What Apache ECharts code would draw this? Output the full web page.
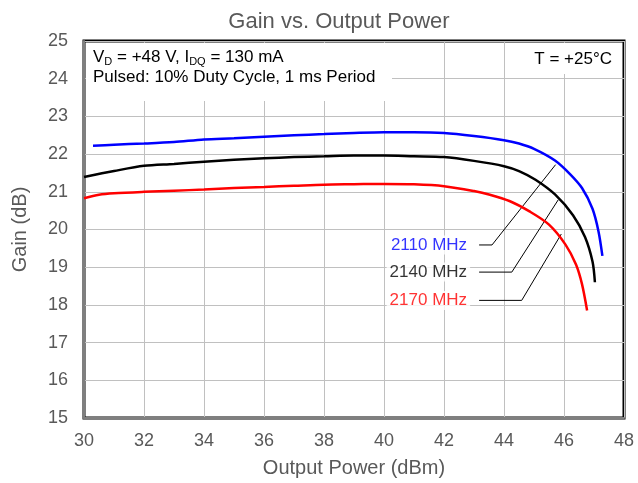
<!DOCTYPE html>
<html>
<head>
<meta charset="utf-8">
<script src="https://cdn.jsdelivr.net/npm/echarts@6/dist/echarts.min.js"></script>
<style>
  html, body { margin: 0; padding: 0; background: #fff; }
  #chart { width: 638px; height: 483px; }
</style>
</head>
<body>
<div id="chart"></div>
<script>
// data: [output power dBm, gain dB]
var gain2110 = [[30.3, 22.22], [31, 22.25], [32, 22.28], [33, 22.32], [34, 22.39], [35, 22.42], [36, 22.46],
    [37, 22.5], [38, 22.53], [39, 22.56], [40, 22.58], [41, 22.58], [42, 22.56], [43, 22.48], [44, 22.37],
    [44.5, 22.28], [45, 22.14], [45.7, 21.83], [46.2, 21.47], [46.6, 21.1], [46.95, 20.55], [47.15, 19.95], [47.28, 19.3]];
var gain2140 = [[30, 21.39], [31, 21.55], [32, 21.69], [33, 21.74], [34, 21.8], [35, 21.85], [36, 21.89],
    [37, 21.92], [38, 21.94], [39, 21.96], [40, 21.96], [41, 21.94], [42, 21.92], [43, 21.82], [44, 21.68],
    [44.5, 21.55], [45.05, 21.32], [45.7, 20.93], [46.3, 20.38], [46.7, 19.8], [46.95, 19.15], [47.03, 18.6]];
var gain2170 = [[30, 20.83], [30.5, 20.92], [31, 20.96], [32, 21.0], [33, 21.03], [34, 21.06], [35, 21.1],
    [36, 21.13], [37, 21.16], [38, 21.19], [39, 21.2], [40, 21.21], [41, 21.2], [42, 21.15], [43, 21.02],
    [43.5, 20.93], [44.2, 20.75], [44.85, 20.48], [45.5, 20.13], [46.05, 19.6], [46.4, 19.07], [46.6, 18.55], [46.77, 17.85]];

// callout leaders (curve -> elbow -> label)
var lead2110 = [[45.72, 21.72], [43.6, 19.59], [43.17, 19.59]];
var lead2140 = [[45.81, 20.79], [44.26, 18.87], [43.17, 18.87]];
var lead2170 = [[45.91, 19.88], [44.59, 18.12], [43.17, 18.12]];

var names = ['2110 MHz', '2140 MHz', '2170 MHz'];
var colors = ['#0000ff', '#000000', '#ff0000'];
var xTicks = [30, 48, 2];
var yTicks = [15, 25, 1];

var font = "'Liberation Sans', Arial, sans-serif";
var gray = '#595959';

function curve(name, data, color) {
    return {
        name: name,
        type: 'line',
        data: data,
        smooth: 0.3,
        showSymbol: false,
        lineStyle: { color: color, width: 2.5 },
        z: 3
    };
}
function leader(data) {
    return {
        type: 'line',
        data: data,
        showSymbol: false,
        silent: true,
        lineStyle: { color: '#000', width: 1 },
        z: 2
    };
}
function tag(name, data, color) {
    var p = data[data.length - 1];
    return {
        type: 'scatter',
        data: [p],
        symbolSize: 0,
        silent: true,
        label: {
            show: true,
            position: 'left',
            distance: 9,
            formatter: name,
            color: color,
            fontFamily: font,
            fontSize: 17,
            backgroundColor: '#fff',
            padding: [1, 3]
        },
        z: 4
    };
}

var mychart = echarts.init(document.getElementById('chart'));
option = {
    animation: false,
    textStyle: { fontFamily: font },
    title: {
        text: 'Gain vs. Output Power',
        left: 334,
        top: 6,
        textAlign: 'center',
        textStyle: { fontFamily: font, fontSize: 22, fontWeight: 'normal', color: gray }
    },
    grid: {
        left: 84, right: 14, top: 41, bottom: 64,
        show: true,
        borderColor: '#000',
        borderWidth: 3,
        backgroundColor: '#fff'
    },
    xAxis: {
        type: 'value',
        min: xTicks[0], max: xTicks[1], interval: xTicks[2],
        name: 'Output Power (dBm)',
        nameLocation: 'middle',
        nameGap: 40,
        nameTextStyle: { fontFamily: font, fontSize: 20, color: gray },
        axisLine: { lineStyle: { color: '#7f7f7f', width: 2 } },
        axisTick: { show: false },
        axisLabel: { fontFamily: font, fontSize: 18, color: gray, margin: 14 },
        splitLine: { lineStyle: { color: '#c0c0c0', width: 1 } }
    },
    yAxis: {
        type: 'value',
        min: yTicks[0], max: yTicks[1], interval: yTicks[2],
        name: 'Gain (dB)',
        nameLocation: 'middle',
        nameGap: 54,
        nameTextStyle: { fontFamily: font, fontSize: 20, color: gray },
        axisLine: { show: true, lineStyle: { color: '#7f7f7f', width: 2 } },
        axisTick: { show: false },
        axisLabel: { fontFamily: font, fontSize: 18, color: gray, margin: 16 },
        splitLine: { lineStyle: { color: '#c0c0c0', width: 1 } }
    },
    graphic: [
        { type: 'rect', left: 86, top: 43, z: 1, shape: { width: 306, height: 58 }, style: { fill: '#fff' } },
        { type: 'rect', left: 522, top: 43, z: 1, shape: { width: 100, height: 31 }, style: { fill: '#fff' } },
        {
            type: 'text', left: 93, top: 47, z: 5,
            style: {
                text: 'V{s|D} = +48 V, I{s|DQ} = 130 mA\nPulsed: 10% Duty Cycle, 1 ms Period',
                font: '17px ' + font,
                fill: '#000',
                lineHeight: 20,
                rich: {
                    s: { fontSize: 11, fontFamily: font, verticalAlign: 'bottom', lineHeight: 20, padding: [6, 0, 0, 0] }
                }
            }
        },
        {
            type: 'text', right: 26, top: 51, z: 5,
            style: { text: 'T = +25°C', font: '17px ' + font, fill: '#000' }
        }
    ],
    series: [
        curve(names[0], gain2110, colors[0]),
        curve(names[1], gain2140, colors[1]),
        curve(names[2], gain2170, colors[2]),
        leader(lead2110),
        leader(lead2140),
        leader(lead2170),
        tag(names[0], lead2110, colors[0]),
        tag(names[1], lead2140, colors[1]),
        tag(names[2], lead2170, colors[2])
    ]
};
mychart.setOption(option);
</script>
</body>
</html>
